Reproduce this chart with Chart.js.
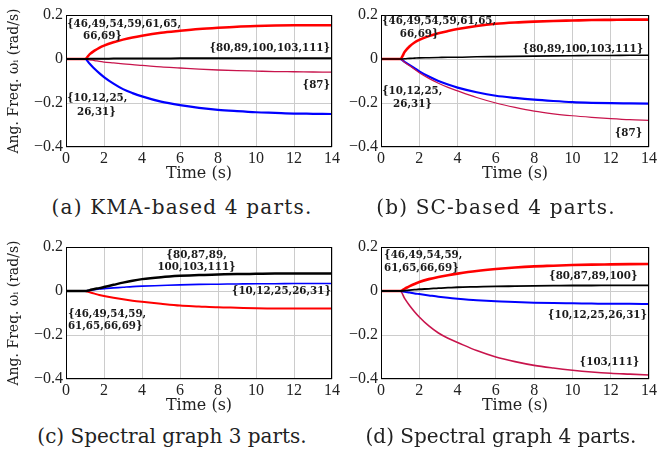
<!DOCTYPE html>
<html>
<head>
<meta charset="utf-8">
<script src="https://cdn.jsdelivr.net/npm/chart.js@4.4.0/dist/chart.umd.min.js"></script>
<style>
  body { margin: 0; background: #fff; }
  #wrap { position: relative; width: 657px; height: 457px; overflow: hidden; }
  canvas { position: absolute; }
  .cap { position: absolute; width: 340px; text-align: center; font-family: "DejaVu Serif"; font-size: 20px; line-height: 22px; color: #222; white-space: nowrap; }
  .wide { letter-spacing: 1.2px; }
</style>
</head>
<body>
<div id="wrap">
  <canvas id="ca" width="340" height="185" style="left:0;top:0"></canvas>
  <canvas id="cb" width="330" height="185" style="left:327px;top:0"></canvas>
  <canvas id="cc" width="340" height="185" style="left:0;top:232px"></canvas>
  <canvas id="cd" width="330" height="185" style="left:327px;top:232px"></canvas>
  <div class="cap wide" style="left:12px;top:196px">(a) KMA-based 4 parts.</div>
  <div class="cap wide" style="left:326px;top:196px">(b) SC-based 4 parts.</div>
  <div class="cap" style="left:2px;top:425px">(c) Spectral graph 3 parts.</div>
  <div class="cap" style="left:331px;top:425px">(d) Spectral graph 4 parts.</div>
</div>
<script>
// time samples (s)
const time = [0, 1, 1.25, 1.5, 1.75, 2, 2.5, 3, 3.5, 4, 5, 6, 7, 8, 9, 10, 11, 12, 13, 14];
const xTicks = [0, 2, 4, 6, 8, 10, 12, 14];
const yTicks = [-0.4, -0.2, 0, 0.2];

// (a) KMA-based 4 parts
const redA   = [0, 0, 0.022, 0.038, 0.051, 0.061, 0.076, 0.088, 0.098, 0.106, 0.119, 0.128, 0.136, 0.142, 0.147, 0.150, 0.152, 0.153, 0.153, 0.153];
const blueA  = [0, 0, -0.022, -0.044, -0.064, -0.082, -0.112, -0.137, -0.155, -0.170, -0.194, -0.210, -0.222, -0.231, -0.237, -0.242, -0.245, -0.248, -0.249, -0.250];
const crimA  = [0, 0, -0.004, -0.007, -0.011, -0.014, -0.018, -0.022, -0.026, -0.029, -0.036, -0.041, -0.046, -0.050, -0.053, -0.055, -0.057, -0.058, -0.059, -0.060];
const blackA = [0, 0, 0.001, 0.001, 0.001, 0.001, 0.002, 0.002, 0.002, 0.002, 0.002, 0.003, 0.003, 0.003, 0.003, 0.003, 0.003, 0.003, 0.003, 0.003];

// (b) SC-based 4 parts
const redB   = [0, 0, 0.034, 0.058, 0.075, 0.087, 0.104, 0.117, 0.127, 0.136, 0.150, 0.160, 0.166, 0.170, 0.173, 0.175, 0.177, 0.178, 0.179, 0.179];
const blueB  = [0, 0, -0.014, -0.028, -0.042, -0.056, -0.080, -0.100, -0.116, -0.130, -0.151, -0.167, -0.177, -0.185, -0.191, -0.196, -0.199, -0.201, -0.202, -0.203];
const crimB  = [0, 0, -0.016, -0.031, -0.047, -0.062, -0.088, -0.110, -0.129, -0.145, -0.175, -0.200, -0.220, -0.237, -0.249, -0.258, -0.265, -0.271, -0.276, -0.279];
const blackB = [0, 0, 0.001, 0.003, 0.004, 0.005, 0.006, 0.007, 0.008, 0.008, 0.010, 0.011, 0.012, 0.013, 0.014, 0.015, 0.016, 0.016, 0.017, 0.017];

// (c) spectral graph 3 parts
const blackC = [0, 0, 0.004, 0.009, 0.013, 0.018, 0.028, 0.038, 0.047, 0.054, 0.063, 0.069, 0.073, 0.075, 0.077, 0.078, 0.079, 0.079, 0.080, 0.080];
const blueC  = [0, 0, 0.003, 0.006, 0.009, 0.011, 0.014, 0.017, 0.020, 0.022, 0.025, 0.028, 0.030, 0.031, 0.032, 0.033, 0.033, 0.034, 0.034, 0.034];
const redC   = [0, 0, -0.006, -0.012, -0.018, -0.023, -0.031, -0.038, -0.044, -0.049, -0.058, -0.066, -0.070, -0.074, -0.076, -0.078, -0.079, -0.079, -0.080, -0.080];

// (d) spectral graph 4 parts
const redD   = [0, 0, 0.011, 0.022, 0.032, 0.041, 0.054, 0.064, 0.072, 0.079, 0.091, 0.100, 0.107, 0.112, 0.115, 0.118, 0.120, 0.121, 0.122, 0.123];
const blackD = [0, 0, 0.002, 0.004, 0.006, 0.008, 0.010, 0.013, 0.015, 0.017, 0.019, 0.021, 0.022, 0.023, 0.024, 0.025, 0.025, 0.026, 0.026, 0.026];
const blueD  = [0, 0, -0.004, -0.007, -0.011, -0.014, -0.020, -0.026, -0.031, -0.035, -0.042, -0.047, -0.050, -0.053, -0.055, -0.056, -0.057, -0.058, -0.058, -0.059];
const crimD  = [0, 0, -0.036, -0.067, -0.094, -0.118, -0.159, -0.191, -0.215, -0.234, -0.271, -0.300, -0.321, -0.338, -0.350, -0.360, -0.368, -0.374, -0.378, -0.382];

// group labels: [text, t, value, align]
const tagsA = [
  ["{46,49,54,59,61,65,", 0.05, 0.159, "left"], ["66,69}", 0.9, 0.105, "left"],
  ["{80,89,100,103,111}", 13.9, 0.05, "right"], ["{87}", 13.9, -0.118, "right"],
  ["{10,12,25,", 0.05, -0.177, "left"], ["26,31}", 0.58, -0.241, "left"]
];
const tagsB = [
  ["{46,49,54,59,61,65,", 0.05, 0.17, "left"], ["66,69}", 0.98, 0.112, "left"],
  ["{80,89,100,103,111}", 13.7, 0.045, "right"], ["{87}", 13.65, -0.338, "right"],
  ["{10,12,25,", 0.05, -0.149, "left"], ["26,31}", 0.63, -0.205, "left"]
];
const tagsC = [
  ["{80,87,89,", 6.87, 0.164, "center"], ["100,103,111}", 6.87, 0.106, "center"],
  ["{10,12,25,26,31}", 13.95, -0.003, "right"],
  ["{46,49,54,59,", 0.1, -0.105, "left"], ["61,65,66,69}", 0.1, -0.162, "left"]
];
const tagsD = [
  ["{46,49,54,59,", 0.16, 0.16, "left"], ["61,65,66,69}", 0.16, 0.103, "left"],
  ["{80,87,89,100}", 13.4, 0.065, "right"], ["{10,12,25,26,31}", 13.9, -0.109, "right"],
  ["{103,111}", 13.5, -0.326, "right"]
];

const RED = "#ff0000", BLUE = "#0000ff", BLACK = "#000000", CRIMSON = "#c8144c";

const tagPlugin = {
  id: "tags",
  afterDatasetsDraw(chart, args, opts) {
    const { ctx, chartArea, scales: { x, y } } = chart;
    ctx.save();
    ctx.strokeStyle = "#000";
    ctx.lineWidth = 1;
    ctx.strokeRect(chartArea.left + 0.5, chartArea.top + 0.5, chartArea.width - 1, chartArea.height - 1);
    ctx.font = 'bold 10.3px "DejaVu Serif"';
    ctx.fillStyle = "#1a1a1a";
    ctx.textBaseline = "middle";
    (opts.items || []).forEach(([text, t, v, align]) => {
      ctx.textAlign = align;
      ctx.fillText(text, x.getPixelForValue(t), y.getPixelForValue(v));
    });
    ctx.restore();
  }
};

function line(vals, color, width) {
  return {
    data: time.map((t, i) => ({ x: t, y: vals[i] })),
    borderColor: color,
    borderWidth: width,
    pointRadius: 0,
    fill: false,
    cubicInterpolationMode: "monotone"
  };
}

function fmt(v) {
  const r = Math.round(v * 10) / 10;
  if (r === 0) return "0";
  return (r < 0 ? "\u2212" : "") + Math.abs(r).toFixed(1);
}

function panel(id, datasets, tags, yTitle, yWidth) {
  new Chart(document.getElementById(id), {
    type: "line",
    data: { datasets },
    plugins: [tagPlugin],
    options: {
      responsive: false,
      animation: false,
      layout: { padding: { top: 15, right: 8, left: 0, bottom: 0 } },
      plugins: { legend: { display: false }, tooltip: { enabled: false }, tags: { items: tags } },
      scales: {
        x: {
          type: "linear", min: 0, max: 14,
          afterBuildTicks: s => { s.ticks = xTicks.map(v => ({ value: v })); },
          afterFit: s => { s.height = 38; s.paddingLeft = 0; s.paddingRight = 0; },
          grid: { color: "#cccccc", drawTicks: false },
          border: { display: false },
          ticks: { padding: 2, maxRotation: 0, autoSkip: false, color: "#222", font: { family: "Liberation Serif", size: 16 } },
          title: { display: true, text: "Time (s)", color: "#222", padding: { top: 0, bottom: 2 }, font: { family: "DejaVu Serif", size: 16 } }
        },
        y: {
          min: -0.4, max: 0.2,
          afterBuildTicks: s => { s.ticks = yTicks.map(v => ({ value: v })); },
          afterFit: s => { s.width = yWidth; s.paddingTop = 0; s.paddingBottom = 0; },
          grid: { color: "#cccccc", drawTicks: false },
          border: { display: false },
          ticks: { padding: 3, color: "#222", font: { family: "Liberation Serif", size: 16 }, callback: v => fmt(v) },
          title: { display: yTitle, text: "Ang. Freq. \u03c9\u1d62 (rad/s)", color: "#222", padding: { top: 6, bottom: 0 }, font: { family: "DejaVu Serif", size: 14 } }
        }
      }
    }
  });
}

panel("ca", [line(blackA, BLACK, 2), line(crimA, CRIMSON, 1.3), line(redA, RED, 2.5), line(blueA, BLUE, 2.2)], tagsA, true, 66);
panel("cb", [line(blackB, BLACK, 1.6), line(redB, RED, 2.6), line(crimB, CRIMSON, 1.2), line(blueB, BLUE, 2.2)], tagsB, false, 54);
panel("cc", [line(blackC, BLACK, 2.5), line(blueC, BLUE, 1.6), line(redC, RED, 2)], tagsC, true, 66);
panel("cd", [line(blackD, BLACK, 1.8), line(redD, RED, 2.6), line(blueD, BLUE, 2), line(crimD, CRIMSON, 1.6)], tagsD, false, 54);
</script>
</body>
</html>
